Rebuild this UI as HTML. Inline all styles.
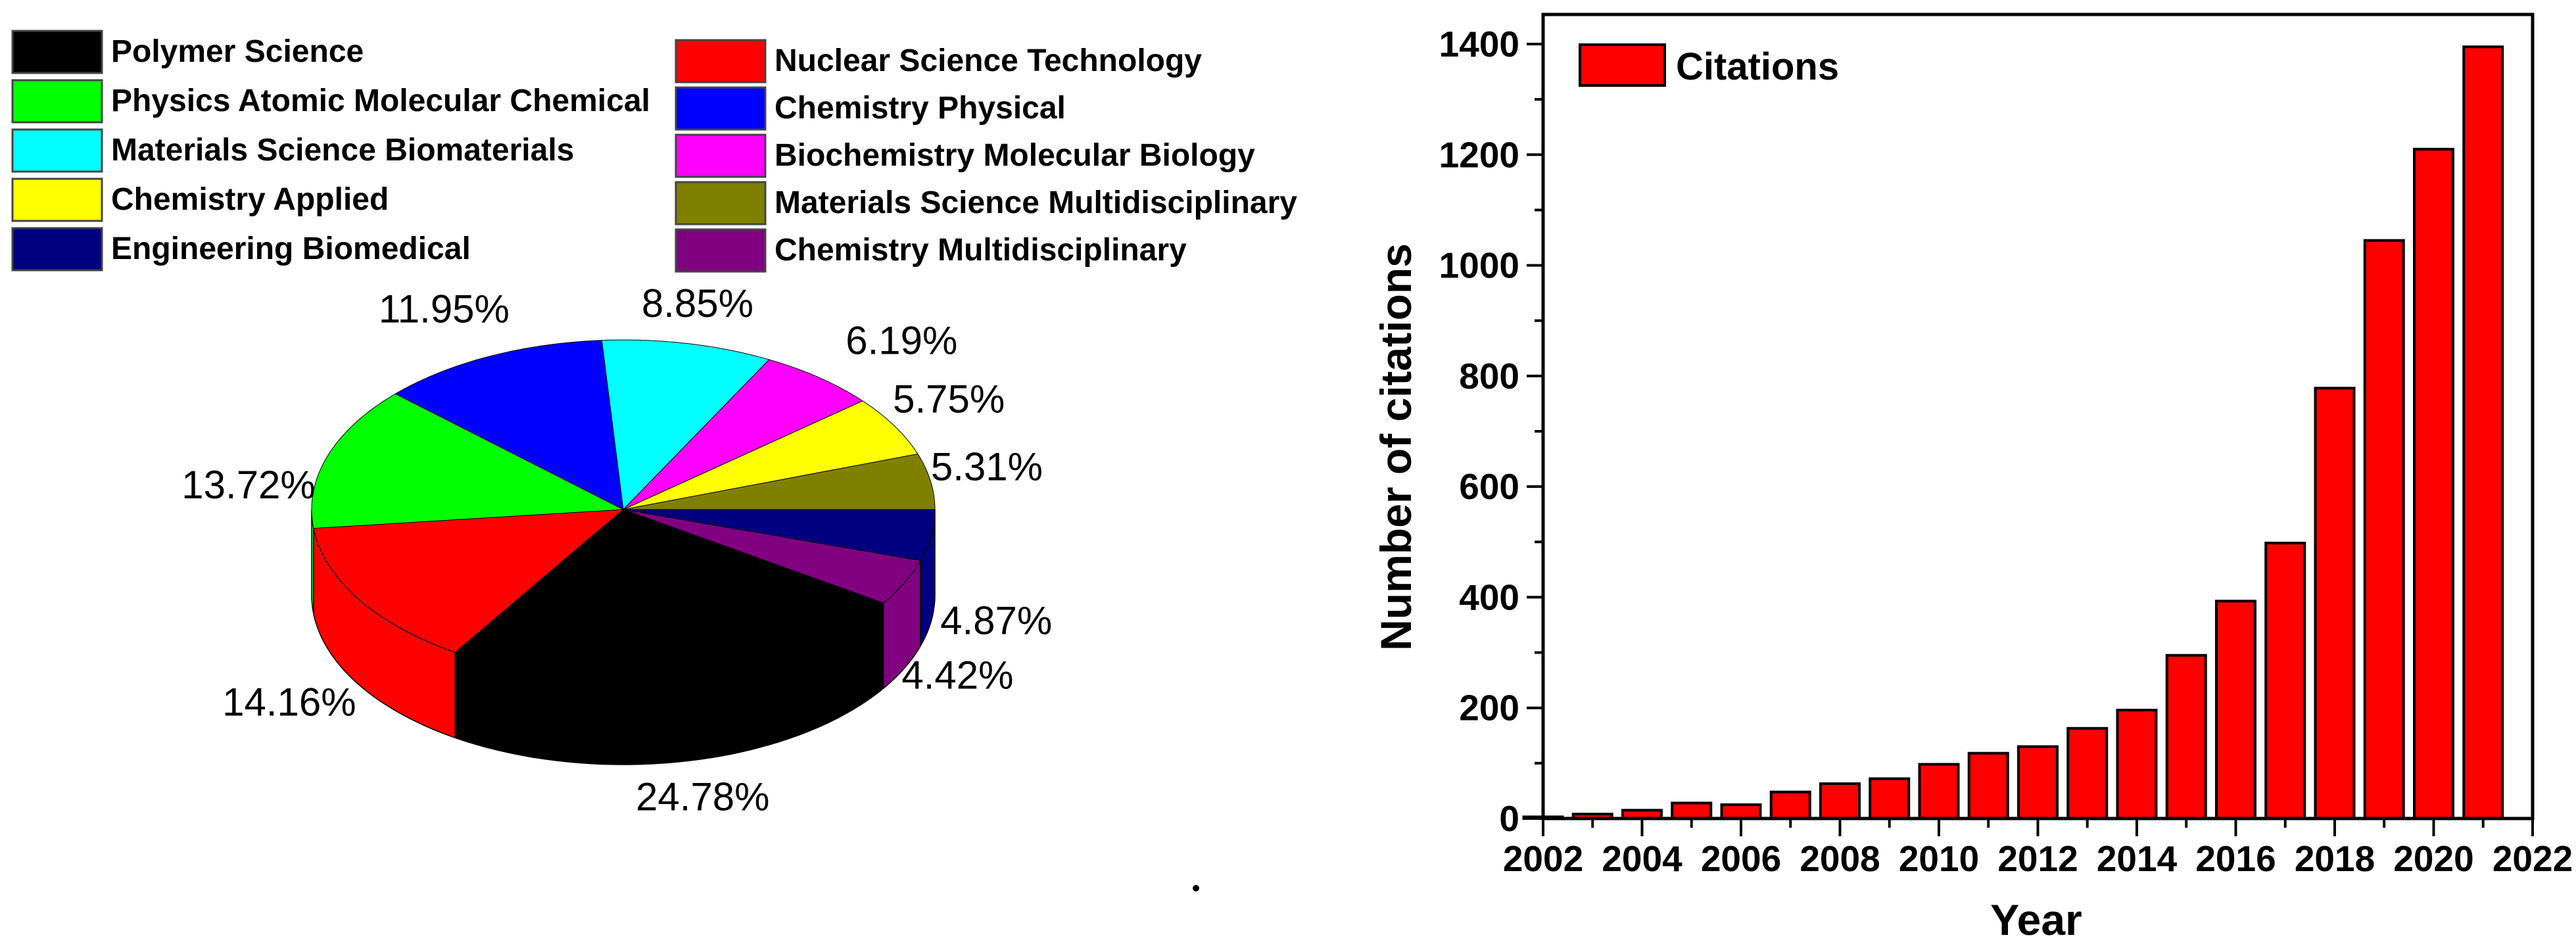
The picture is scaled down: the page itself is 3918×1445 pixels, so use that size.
<!DOCTYPE html>
<html><head><meta charset="utf-8"><style>
html,body{margin:0;padding:0;background:#fff;}
svg{display:block;}
text{font-family:"Liberation Sans",Arial,sans-serif;}
</style></head><body>
<svg id="fig" width="3918" height="1445" viewBox="0 0 3918 1445" xmlns="http://www.w3.org/2000/svg">
<g id="pie-legend"></g>
<g id="pie"></g>
<circle cx="1819" cy="1351" r="5" fill="#000"/>
<g id="bar"></g>
</svg>
<script>
const pieNames=["Engineering Biomedical","Chemistry Multidisciplinary","Polymer Science","Nuclear Science Technology","Physics Atomic Molecular Chemical","Chemistry Physical","Materials Science Biomaterials","Biochemistry Molecular Biology","Chemistry Applied","Materials Science Multidisciplinary"];
const pieValues=[4.87,4.42,24.78,14.16,13.72,11.95,8.85,6.19,5.75,5.31];
const pieColors=["#000080","#800080","#000000","#ff0000","#00ff00","#0000ff","#00ffff","#ff00ff","#ffff00","#808000"];
const legendOrder=[2,3,4,5,6,7,8,9,0,1];
// style: label nudges in px
const labelNudgeX=[5,-5,3,-25,-30,-28,-5,65,0,-8];
const labelNudgeY=[98,50,-23,45,70,3,20,8,0,-8];

const years=[2002,2003,2004,2005,2006,2007,2008,2009,2010,2011,2012,2013,2014,2015,2016,2017,2018,2019,2020,2021];
const citations=[3,8,15,28,25,48,63,72,98,118,130,163,196,295,393,498,778,1045,1210,1395];
const yTicks=[0,200,400,600,800,1000,1200,1400];
const xTicks=[2002,2004,2006,2008,2010,2012,2014,2016,2018,2020,2022];

const NS="http://www.w3.org/2000/svg";
function mk(tag,attrs,parent){const e=document.createElementNS(NS,tag);for(const k in attrs)e.setAttribute(k,attrs[k]);parent.appendChild(e);return e;}

// ---- pie legend ----
const lg=document.getElementById('pie-legend');
legendOrder.forEach((idx,i)=>{
  const col=i%2, row=Math.floor(i/2);
  const sx=col===0?19:1028, ty=col===0?47+row*75:61+row*72;
  const r=mk('rect',{x:sx,y:ty,width:136,height:64,fill:pieColors[idx],stroke:'#444','stroke-width':3},lg);
  
  
  const t=mk('text',{x:sx+150,y:ty+47,'font-size':48,'font-weight':'bold',fill:'#000'},lg);
  t.textContent=pieNames[idx];
  
  
});

// ---- 3D pie ----
const pg=document.getElementById('pie');
const cx=948,cy=775,rx=474,ry=258,depth=130;
const P=(a,dz)=>[cx+rx*Math.cos(a),cy+ry*Math.sin(a)+(dz||0)];
const total=pieValues.reduce((a,b)=>a+b,0);
let cum=0;const slices=pieValues.map(v=>{const a0=cum/total*2*Math.PI;cum+=v;return [a0,cum/total*2*Math.PI];});
slices.forEach(([a0,a1],i)=>{
  const s=Math.max(a0,0), e=Math.min(a1,Math.PI);
  if(e<=s)return;
  let d='';const n=40;
  for(let k=0;k<=n;k++){const p=P(s+(e-s)*k/n);d+=(k?'L':'M')+p[0].toFixed(1)+' '+p[1].toFixed(1);}
  for(let k=n;k>=0;k--){const p=P(s+(e-s)*k/n,depth);d+='L'+p[0].toFixed(1)+' '+p[1].toFixed(1);}
  const el=mk('path',{d:d+'Z',fill:pieColors[i],stroke:'#000','stroke-width':1.5},pg);
  
  
});
slices.forEach(([a0,a1],i)=>{
  let d='M'+cx+' '+cy;const n=60;
  for(let k=0;k<=n;k++){const p=P(a0+(a1-a0)*k/n);d+='L'+p[0].toFixed(1)+' '+p[1].toFixed(1);}
  const el=mk('path',{d:d+'Z',fill:pieColors[i],stroke:'#000','stroke-width':1},pg);
  
  
});
slices.forEach(([a0,a1],i)=>{
  const m=(a0+a1)/2, c=Math.cos(m), s=Math.sin(m);
  const x=cx+c*rx*1.2+labelNudgeX[i], y=cy+s*ry*1.32+(s>0?depth*s:0)+20+labelNudgeY[i];
  const t=mk('text',{x:x,y:y,'font-size':60,'text-anchor':'middle',fill:'#000'},pg);
  t.textContent=pieValues[i].toFixed(2)+'%';
  
  
});

// ---- bar chart ----
const bg=document.getElementById('bar');
const L=2347,R=3852,T=22,B=1245;
const X=v=>L+(v-2002)*(R-L)/20;
const Y=v=>B-v*(B-67)/1400;
citations.forEach((v,i)=>{
  const w=59, x=X(years[i])-w/2;
  const r=mk('rect',{x:x,y:Y(v),width:w,height:B-Y(v),fill:'#ff0000',stroke:'#000','stroke-width':4},bg);
  
  
});
const frame=mk('rect',{x:L,y:T,width:R-L,height:B-T,fill:'none',stroke:'#000','stroke-width':5},bg);


for(let yv=0;yv<=1400;yv+=100){
  const major=yv%200===0;
  const tk=mk('line',{x1:L,x2:L-(major?25:13),y1:Y(yv),y2:Y(yv),stroke:'#000','stroke-width':4},bg);
  
  
}
yTicks.forEach(v=>{
  const t=mk('text',{x:L-36,y:Y(v)+19,'font-size':55,'font-weight':'bold','text-anchor':'end'},bg);
  t.textContent=v;
  
  
});
for(let yr=2002;yr<=2022;yr++){
  const major=yr%2===0;
  const tk=mk('line',{x1:X(yr),x2:X(yr),y1:B,y2:B+(major?27:14),stroke:'#000','stroke-width':4},bg);
  
  
}
xTicks.forEach(v=>{
  const t=mk('text',{x:X(v),y:1325,'font-size':55,'font-weight':'bold','text-anchor':'middle'},bg);
  t.textContent=v;
  
  
});
const xt=mk('text',{x:3097,y:1422,'font-size':66,'font-weight':'bold','text-anchor':'middle'},bg);
xt.textContent='Year';


const yt=mk('text',{x:0,y:0,'font-size':66,'font-weight':'bold','text-anchor':'middle',transform:'translate(2146,680) rotate(-90)'},bg);
yt.textContent='Number of citations';


const ls=mk('rect',{x:2403,y:68,width:129,height:62,fill:'#ff0000',stroke:'#000','stroke-width':4},bg);


const lt=mk('text',{x:2549,y:121,'font-size':58,'font-weight':'bold'},bg);
lt.textContent='Citations';


</script>
</body></html>
